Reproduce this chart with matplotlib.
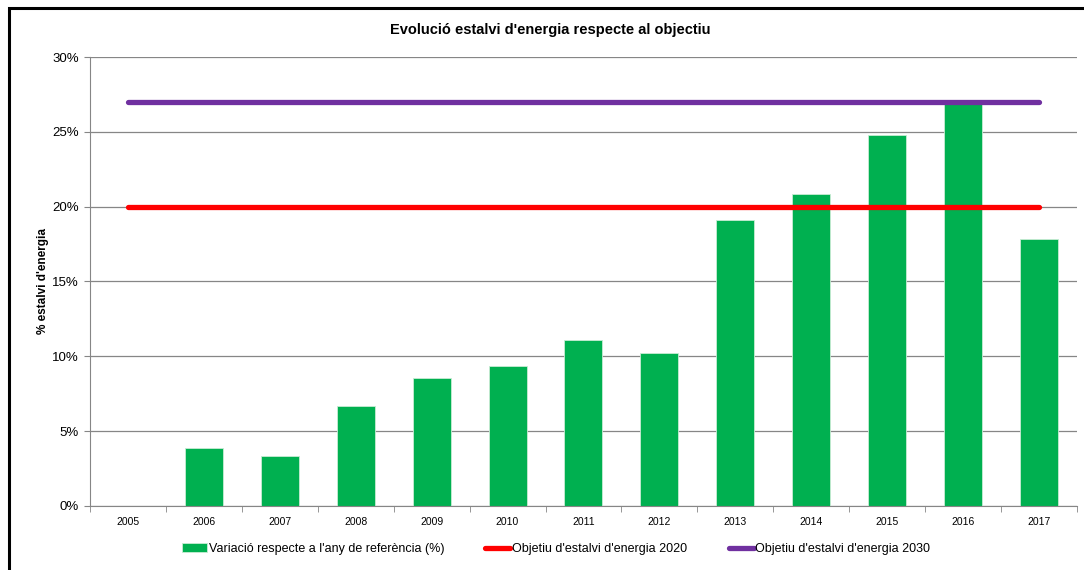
import matplotlib.pyplot as plt
from matplotlib.patches import Rectangle
import numpy as np

years = ['2005', '2006', '2007', '2008', '2009', '2010', '2011',
         '2012', '2013', '2014', '2015', '2016', '2017']
variacio = [0.0, 3.87, 3.34, 6.68, 8.55, 9.35, 11.09,
            10.22, 19.1, 20.84, 24.78, 26.85, 17.84]
objectiu_2020 = [20.0] * len(years)
objectiu_2030 = [27.0] * len(years)

plt.rcParams['font.family'] = ['Liberation Sans', 'DejaVu Sans']

fig = plt.figure(figsize=(10.84, 5.7), dpi=100)
ax = fig.add_axes([0.083, 0.1123, 0.9105, 0.7877])

x = np.arange(len(years))
b = ax.bar(x, variacio, width=0.5, color='#00b050', edgecolor='#c8ecd4', linewidth=0.6,
           label="Variació respecte a l'any de referència (%)", zorder=2)
l1, = ax.plot(x, objectiu_2020, color='#ff0000', lw=3.8, solid_capstyle='round',
              label="Objetiu d'estalvi d'energia 2020", zorder=3)
l2, = ax.plot(x, objectiu_2030, color='#7030a0', lw=3.8, solid_capstyle='round',
              label="Objetiu d'estalvi d'energia 2030", zorder=3)

ax.set_xlim(-0.5, len(years) - 0.5)
ax.set_ylim(0, 30)
ax.set_yticks(np.arange(0, 31, 5))
ax.set_yticklabels([f'{v}%' for v in range(0, 31, 5)], fontsize=9.5)
ax.set_xticks(x)
ax.set_xticklabels(years, fontsize=7.5)
ax.tick_params(axis='x', length=0, pad=8)
ax.set_xticks(np.arange(-0.5, len(years)), minor=True)
ax.tick_params(axis='x', which='minor', length=4, color='#868686')
ax.tick_params(axis='y', length=4, color='#868686', pad=4)
ax.grid(axis='y', color='#868686', lw=0.9, zorder=0)

for s in ['top', 'right']:
    ax.spines[s].set_visible(False)
for s in ['left', 'bottom']:
    ax.spines[s].set_color('#868686')

ax.set_ylabel("% estalvi d'energia", fontsize=8.5, fontweight='bold', labelpad=2)
fig.text(0.508, 0.947, "Evolució estalvi d'energia respecte al objectiu",
         ha='center', va='center', fontsize=10.5, fontweight='bold')

fig.legend(handles=[b, l1, l2], loc='center', bbox_to_anchor=(0.513, 0.037), ncol=3,
           frameon=False, fontsize=9, handlelength=2.0, handletextpad=0.15,
           columnspacing=3.3)

fig.patches.append(Rectangle((0.0085, -0.1), 1.2, 1.086, transform=fig.transFigure,
                             fill=False, edgecolor='black', lw=2.2))

fig.savefig('out.png', dpi=100)
